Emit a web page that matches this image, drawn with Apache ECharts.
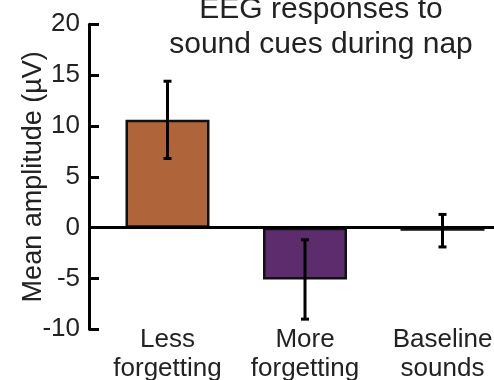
<!DOCTYPE html>
<html>
<head>
<meta charset="utf-8">
<script src="https://cdn.jsdelivr.net/npm/echarts@6/dist/echarts.min.js"></script>
<style>
  html, body { margin: 0; padding: 0; background: #fff; }
  #chart { width: 494px; height: 380px; }
</style>
</head>
<body>
<div id="chart"></div>
<script>
// Conditions and mean EEG amplitude (µV) with error-bar half-widths
const categories = ['Less\nforgetting', 'More\nforgetting', 'Baseline\nsounds'];
const meanAmplitude = [10.6, -5.1, -0.3];
const errorHalf = [3.8, 3.9, 1.6];
const barColors = ['#B0643A', '#5D2C6C', '#3a3a3a'];
const yTicks = { min: -10, max: 20, step: 5 };

const textColor = '#222';
const fontFamily = 'Liberation Sans, Arial, Helvetica, sans-serif';

const chart = echarts.init(document.getElementById('chart'), null, { renderer: 'canvas' });

const barData = meanAmplitude.map((v, i) => ({
  value: v,
  itemStyle: { color: barColors[i] }
}));

const errData = meanAmplitude.map((v, i) => [i, v - errorHalf[i], v + errorHalf[i]]);

chart.setOption({
  animation: false,
  title: {
    text: 'EEG responses to\nsound cues during nap',
    left: 316,
    top: -13,
    textAlign: 'center',
    textStyle: {
      color: textColor,
      fontFamily: fontFamily,
      fontWeight: 'normal',
      fontSize: 30,
      lineHeight: 35
    }
  },
  grid: {
    left: 98.75,
    width: 412.5,
    top: 24.3,
    bottom: 50.7,
    containLabel: false,
    outerBoundsMode: 'none'
  },
  xAxis: {
    type: 'category',
    data: categories,
    axisLine: { show: false, onZero: false },
    axisTick: { show: false },
    axisLabel: {
      color: textColor,
      fontFamily: fontFamily,
      fontSize: 26,
      lineHeight: 29,
      margin: -4,
      interval: 0
    }
  },
  yAxis: {
    type: 'value',
    min: yTicks.min,
    max: yTicks.max,
    interval: yTicks.step,
    offset: 9.75,
    splitLine: { show: false },
    axisLine: { show: true, lineStyle: { color: '#000', width: 3 } },
    axisTick: { show: true, inside: true, length: 10, lineStyle: { color: '#000', width: 3 } },
    axisLabel: {
      color: textColor,
      fontFamily: fontFamily,
      fontSize: 26,
      margin: 9
    },
    name: 'Mean amplitude (µV)',
    nameLocation: 'middle',
    nameGap: 42,
    nameMoveOverlap: false,
    nameTextStyle: {
      color: textColor,
      fontFamily: fontFamily,
      fontSize: 27
    }
  },
  series: [
    {
      type: 'bar',
      data: barData,
      barWidth: 84,
      itemStyle: { borderColor: '#111', borderWidth: 2.5 },
      markLine: {
        silent: true,
        symbol: 'none',
        label: { show: false },
        lineStyle: { color: '#000', width: 3, type: 'solid' },
        data: [{ yAxis: 0 }],
        z: 3
      },
      z: 2
    },
    {
      type: 'custom',
      data: errData,
      z: 5,
      renderItem: function (params, api) {
        const i = api.value(0);
        const lo = api.coord([i, api.value(1)]);
        const hi = api.coord([i, api.value(2)]);
        const cap = 4;
        const style = { stroke: '#000', lineWidth: 3 };
        return {
          type: 'group',
          children: [
            { type: 'line', shape: { x1: hi[0], y1: hi[1], x2: lo[0], y2: lo[1] }, style: style },
            { type: 'line', shape: { x1: hi[0] - cap, y1: hi[1], x2: hi[0] + cap, y2: hi[1] }, style: style },
            { type: 'line', shape: { x1: lo[0] - cap, y1: lo[1], x2: lo[0] + cap, y2: lo[1] }, style: style }
          ]
        };
      }
    }
  ]
});
</script>
</body>
</html>
